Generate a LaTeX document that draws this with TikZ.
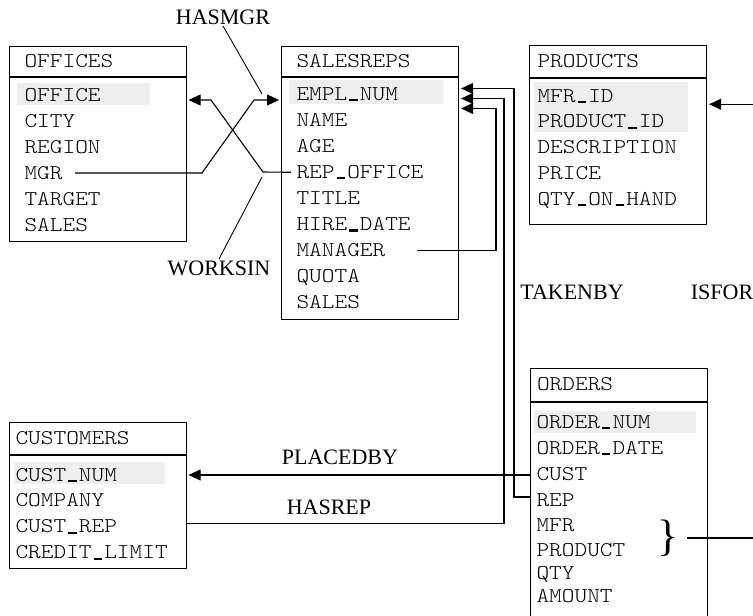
\documentclass[tikz,border=0pt]{standalone}
\usepackage{fontspec}
\setmainfont{Liberation Serif}
\setmonofont{lmmonolt10-regular.otf}[FakeStretch=1.15]
\usepackage{tikz}
\usetikzlibrary{positioning,arrows.meta,calc}
\definecolor{keygray}{HTML}{EEEEEE}
\newcommand{\usc}{\makebox[0.604em]{\rule[-1pt]{0.4em}{2.2pt}}}

\begin{document}
\begin{tikzpicture}[x=1pt, y=-1pt, line width=1.1pt,
  tbl/.style={draw, anchor=north west, inner sep=0pt, minimum width=177pt},
  fld/.style={anchor=west, inner sep=0pt, text height=12pt, text depth=0pt, font=\ttfamily\fontsize{21}{21}\selectfont},
  rel/.style={inner sep=1pt, font=\fontsize{22}{22}\selectfont},
  key/.style={fill=keygray},
  lead/.style={line width=0.9pt},
  ar/.style={-{Triangle[length=12pt,width=11pt]}, shorten >=2pt}]

  \path[use as bounding box] (0,0) rectangle (753,616);
  \clip (0,0) rectangle (753,616);

  % table frames
  \node[tbl, minimum height=30.5pt] (off-h) at (8.5,45.5) {};
  \node[tbl, minimum height=163.5pt] (offices) at (off-h.south west) {};
  \node[tbl, minimum height=30.5pt] (rep-h) at (281,45.5) {};
  \node[tbl, minimum height=242pt] (reps) at (rep-h.south west) {};
  \node[tbl, minimum height=31.5pt] (prd-h) at (529,45) {};
  \node[tbl, minimum height=146pt] (products) at (prd-h.south west) {};
  \node[tbl, minimum height=32pt] (cus-h) at (8.5,422) {};
  \node[tbl, minimum height=113pt] (customers) at (cus-h.south west) {};
  \node[tbl, minimum height=33pt] (ord-h) at (529.5,367.5) {};
  \node[tbl, minimum height=240pt] (orders) at (ord-h.south west) {};

  % primary keys
  \fill[key] (17,83) rectangle (150,105);
  \fill[key] (289,80) rectangle (443,104);
  \fill[key] (534,82) rectangle (688,132);
  \fill[key] (14,462) rectangle (165,484);
  \fill[key] (534,411) rectangle (696,433);

  \node[fld] (off-t) at ([xshift=15.5pt]off-h.west) {OFFICES};
  \node[fld] (rep-t) at ([xshift=15pt]rep-h.west) {SALESREPS};
  \node[fld] (prd-t) at ([xshift=8pt]prd-h.west) {PRODUCTS};
  \node[fld] (cus-t) at ([xshift=6.5pt]cus-h.west) {CUSTOMERS};
  \node[fld] (ord-t) at ([xshift=7pt]ord-h.west) {ORDERS};

  \foreach \nm/\txt [count=\i from 0] in {office/OFFICE, city/CITY, region/REGION, mgr/MGR, target/TARGET, sales/SALES}
    \node[fld] (off-\nm) at (24,95+26*\i) {\txt};
  \foreach \nm/\txt [count=\i from 0] in {empl/EMPL\usc NUM, name/NAME, age/AGE, repoff/REP\usc OFFICE, title/TITLE, hire/HIRE\usc DATE, mgr/MANAGER, quota/QUOTA, sales/SALES}
    \node[fld] (rep-\nm) at (296,94+26.1*\i) {\txt};
  \foreach \nm/\txt [count=\i from 0] in {mfr/MFR\usc ID, prod/PRODUCT\usc ID, desc/DESCRIPTION, price/PRICE, qty/QTY\usc ON\usc HAND}
    \node[fld] (prd-\nm) at (537,96+25.8*\i) {\txt};
  \foreach \nm/\txt [count=\i from 0] in {num/CUST\usc NUM, company/COMPANY, rep/CUST\usc REP, credit/CREDIT\usc LIMIT}
    \node[fld] (cus-\nm) at (15,475+25.9*\i) {\txt};
  \foreach \nm/\txt/\y in {num/ORDER\usc NUM/422, date/ORDER\usc DATE/448, cust/CUST/474, rep/REP/500, mfr/MFR/525, prod/PRODUCT/550, qty/QTY/573, amount/AMOUNT/596}
    \node[fld] (ord-\nm) at (536,\y) {\txt};
  \node[inner sep=0pt, font=\fontsize{44}{44}\selectfont] (brace) at (668,538) {\}};
  \coordinate (prd-in) at ($(prd-mfr)!0.32!(prd-prod)$);

  % relationship names
  \node[rel] (hasmgr) at (223,17) {HASMGR};
  \node[rel] (worksin) at (219,268) {WORKSIN};
  \node[rel] (takenby) at (572,292) {TAKENBY};
  \node[rel] (isfor) at (722,292) {ISFOR};
  \node[rel] (placedby) at (340,457) {PLACEDBY};
  \node[rel] (hasrep) at (329,507) {HASREP};
  \draw[lead] (hasmgr.south) -- (262,94);
  \draw[lead] (worksin.north) -- (262,177);

  % links
  \draw[ar] ([xshift=12pt]off-mgr.east) -- (202,173) -- (254,100) -- ($(reps.west |- rep-empl)+(0,6)$);
  \draw[ar] ([xshift=-5pt]rep-repoff.west) -- (263,172) -- (211,100) -- ($(offices.east |- off-office)+(0,5)$);
  \draw[ar] ([xshift=31pt]rep-mgr.east) -| (496,108.5) -- ($(reps.east |- rep-empl)+(0,14.5)$);
  \draw[ar] ($(orders.west |- ord-rep)+(0,-3)$) -| (514,88.5) -- ($(reps.east |- rep-empl)+(0,-5.5)$);
  \draw[ar] ($(customers.east |- cus-rep)+(0,-3.5)$) -| (504,98.5) -- ($(reps.east |- rep-empl)+(0,4.5)$);
  \draw[ar] (orders.west |- cus-num) -- (customers.east |- cus-num);
  \draw[ar] ([xshift=8pt]brace.east) -- ++(120,0) |- (products.east |- prd-in);
\end{tikzpicture}
\end{document}
